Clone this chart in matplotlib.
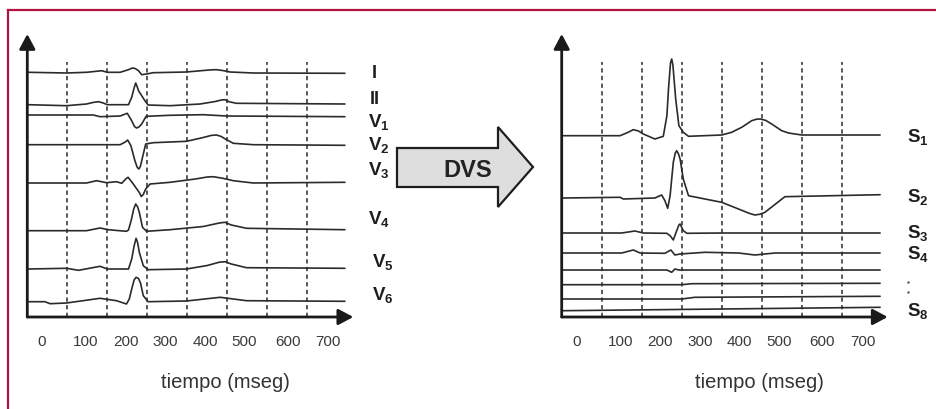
import matplotlib
matplotlib.use("Agg")
import matplotlib.pyplot as plt
from matplotlib.patches import Polygon
from matplotlib.lines import Line2D

plt.rcParams['font.family'] = ['Liberation Sans', 'DejaVu Sans']
plt.rcParams['mathtext.fontset'] = 'custom'
plt.rcParams['mathtext.rm'] = 'Liberation Sans'
plt.rcParams['mathtext.bf'] = 'Liberation Sans:bold'

# time of the dashed guide lines (ms)
grid_t = [100, 200, 300, 400, 500, 600, 700]
# tick labels as printed under the axis (they sit between the guide lines)
tick_pos = [37, 147, 246, 346, 444, 543, 651, 752]
tick_lbl = ['0', '100', '200', '300', '400', '500', '600', '700']

# ---- left panel: the 8 ECG leads, (t ms, level) points
lead_names = ['I', 'II', 'V1', 'V2', 'V3', 'V4', 'V5', 'V6']

lead_I = [(3, 244.7), (98, 244), (148, 244.7), (175, 245.8), (186, 246.3), (200, 244.7),
          (232, 244.7), (253, 247.3), (260, 248.6), (265, 249), (271, 248.2), (278, 246.3),
          (286, 242.3), (298, 243), (315, 244.3), (398, 245), (440, 246.5), (462, 247.2),
          (473, 247.3), (490, 246.4), (507, 245), (565, 244), (794, 243.7)]
lead_II = [(3, 212.3), (98, 211.3), (148, 213), (165, 214.6), (178, 215.3), (190, 214),
           (200, 212.3), (253, 212.3), (261, 219.7), (267, 229), (271, 234), (275, 230),
           (278, 226.3), (286, 221.3), (294, 216.3), (302, 212), (357, 211.3), (432, 213),
           (470, 215.5), (485, 217), (494, 217.3), (505, 215.2), (523, 213.7), (794, 213)]
lead_V1 = [(3, 202), (165, 202), (182, 200.3), (232, 201), (250, 203.7), (261, 196.3),
           (268, 190.5), (273, 189), (279, 190), (286, 193), (297, 200.7), (357, 201.7),
           (440, 202.3), (498, 201), (794, 200.3)]
lead_V2 = [(3, 172.3), (232, 172.3), (245, 175), (251, 177), (259, 171.3), (269, 156.3),
           (275, 149.5), (279, 148), (283, 151), (288, 159.7), (296, 173), (315, 174.3),
           (398, 175.7), (440, 179.5), (460, 181.6), (473, 182), (485, 180.5), (495, 178),
           (515, 173.7), (565, 172.3), (794, 171.7)]
lead_V3 = [(3, 134), (148, 134), (173, 136.3), (198, 134.3), (223, 135.3), (236, 133.7),
           (246, 138), (252, 139.7), (265, 133), (280, 124.5), (285, 120.5), (290, 122.5),
           (296, 128), (307, 133), (357, 134.7), (420, 138), (450, 140), (465, 140.3),
           (490, 138.6), (515, 136.3), (565, 134), (794, 134.7)]
lead_V4 = [(3, 86.3), (148, 86.3), (182, 89), (202, 87.3), (248, 85.7), (253, 87),
           (260, 97), (266, 108), (271, 113), (276, 110), (280, 104.7), (288, 89.7),
           (298, 85.7), (357, 87.3), (440, 90.5), (480, 94), (494, 94.7), (510, 92),
           (548, 88.7), (794, 87.3)]
lead_V5 = [(3, 48), (98, 48.7), (128, 46.7), (182, 50.7), (200, 48), (253, 48),
           (261, 58), (267, 71), (272, 78.7), (276, 74), (280, 64.7), (290, 51.3),
           (302, 47.3), (398, 48), (450, 51.5), (480, 54.8), (494, 55.3), (510, 53),
           (548, 49.3), (794, 48.7)]
lead_V6 = [(3, 15.3), (44, 15.3), (57, 13.3), (98, 14), (182, 18.7), (223, 16.3),
           (248, 13), (255, 18), (261, 28), (267, 37), (272, 39.7), (278, 38.5),
           (283, 34), (290, 21.3), (302, 15.3), (398, 16), (482, 19.7), (548, 16.3),
           (794, 15.7)]
leads = [lead_I, lead_II, lead_V1, lead_V2, lead_V3, lead_V4, lead_V5, lead_V6]

# ---- right panel: the singular value components S1..S8
comp_S1 = [(4, 181.3), (146, 181.3), (165, 184.5), (179, 187.3), (192, 186), (204, 183),
           (233, 178), (254, 180.7), (263, 201.3), (267, 228), (272, 254), (275, 258),
           (278, 252), (285, 218), (293, 191.3), (304, 184.7), (317, 180.7), (400, 182),
           (425, 184.7), (450, 189.7), (475, 196.3), (487, 197.8), (497, 198), (510, 196.6),
           (525, 193), (550, 186.3), (567, 184), (600, 182), (796, 182)]
comp_S2 = [(4, 119), (146, 119.7), (154, 118), (233, 119), (250, 122), (258, 116.3),
           (265, 108.7), (271, 121.3), (279, 154.7), (284, 164), (287.5, 166.3),
           (292, 163), (296, 158), (304, 138), (317, 121.3), (358, 118), (400, 114.7),
           (442, 108), (470, 103.5), (483, 102), (496, 102.8), (508, 104.7), (558, 120.3),
           (796, 122.3)]
comp_S3 = [(4, 84), (150, 84), (183, 86), (204, 84), (263, 83.7), (271, 81.3), (279, 77),
           (287.5, 86.3), (293, 92), (296, 93), (304, 86.3), (313, 83.7), (400, 84),
           (796, 84)]
comp_S4 = [(4, 64), (150, 64), (179, 67), (196, 64), (258, 63.7), (273, 67), (283, 62),
           (296, 63), (358, 64.7), (442, 64), (483, 62), (533, 64), (796, 64)]
comp_S5 = [(4, 47), (263, 47), (275, 44.7), (283, 48), (293, 47), (796, 47)]
comp_S6 = [(4, 32.3), (300, 32.3), (325, 33.3), (796, 33.7)]
comp_S7 = [(4, 18), (300, 18), (333, 19.7), (796, 20.7)]
comp_S8 = [(4, 6.3), (796, 9.7)]
comps = [comp_S1, comp_S2, comp_S3, comp_S4, comp_S5, comp_S6, comp_S7, comp_S8]

# label positions (t, level) at the right end of each panel
lead_lbl_xy = [(867, 245), (869, 219), (852, 195), (852, 172), (852, 147), (852, 98),
               (861, 55), (861, 22)]
comp_lbl = ['S_1', 'S_2', 'S_3', 'S_4', None, None, None, 'S_8']
comp_lbl_y = [180, 120, 84, 63, None, None, None, 6]

W, H = 936, 410
fig = plt.figure(figsize=(W / 100, H / 100), dpi=100)
fig.patch.set_facecolor('white')

ink = '#2b2b2b'
t_max, y_max = 815, 283


def panel(left_px, traces):
    ax = fig.add_axes([left_px / W, (H - 318) / H, 0.4 * t_max / W, y_max / H])
    ax.set_xlim(0, t_max)
    ax.set_ylim(0, y_max)
    for s in ax.spines.values():
        s.set_visible(False)
    ax.set_yticks([])
    ax.set_xticks(tick_pos, tick_lbl)
    ax.tick_params(axis='x', length=0, pad=12, labelsize=11, labelcolor='#3a3a3a')
    ax.vlines(grid_t, 0, 255, colors=ink, linestyles=(0, (2.8, 2.2)), lw=1.1)
    for tr in traces:
        ax.plot([p[0] for p in tr], [p[1] for p in tr], color=ink, lw=1.2,
                solid_joinstyle='round', solid_capstyle='round')
    arrow = dict(arrowstyle='-|>,head_length=0.45,head_width=0.24', lw=2.0,
                 color='#1a1a1a', shrinkA=0, shrinkB=0, mutation_scale=20)
    ax.annotate('', xy=(t_max, 0), xytext=(0, 0), arrowprops=arrow, annotation_clip=False)
    ax.annotate('', xy=(0, y_max), xytext=(0, 0), arrowprops=arrow, annotation_clip=False)
    ax.text(495, -65, 'tiempo (mseg)', ha='center', va='center', fontsize=14.5,
            color='#333333', clip_on=False)
    return ax


ax1 = panel(27.3, leads)
for name, (tx, ty) in zip(lead_names, lead_lbl_xy):
    if name.startswith('V'):
        s = r'$\mathbf{V}_\mathbf{%s}$' % name[1:]
        ax1.text(tx, ty, s, ha='left', va='center', fontsize=13.5, color='#1e1e1e',
                 clip_on=False)
    else:
        ax1.text(tx, ty, name, ha='center', va='center', fontsize=13, fontweight='bold',
                 color='#1e1e1e', clip_on=False)

ax2 = panel(561.7, comps)
for lbl, ly in zip(comp_lbl, comp_lbl_y):
    if lbl is None:
        continue
    ax2.text(863, ly, r'$\mathbf{S}_\mathbf{%s}$' % lbl[2:], ha='left', va='center',
             fontsize=13.5, color='#1e1e1e', clip_on=False)
ax2.plot([866, 866], [35, 25], ls='none', marker='.', ms=1.5, color='#555555', clip_on=False)

# the big "DVS" arrow between the panels (figure pixels, y from the top)
shape_px = [(397, 149), (498, 149), (498, 128), (533, 168), (498, 208), (498, 188), (397, 188)]
shape = [(x / W, 1 - y / H) for x, y in shape_px]
fig.add_artist(Polygon(shape, closed=True, transform=fig.transFigure,
                       facecolor='#dedede', edgecolor='#1e1e1e', lw=1.6, joinstyle='miter'))
fig.text(468 / W, 1 - 171 / H, 'DVS', ha='center', va='center', fontsize=17,
         fontweight='bold', color='#222222')

# crimson frame (top and left edges)
frame = '#b0133f'
fig.add_artist(Line2D([8.3 / W, 1], [1 - 10.5 / H, 1 - 10.5 / H], color=frame, lw=1.6,
                      transform=fig.transFigure))
fig.add_artist(Line2D([8.3 / W, 8.3 / W], [0, 1 - 10.5 / H], color=frame, lw=1.6,
                      transform=fig.transFigure))

fig.savefig('out.png', dpi=100, facecolor='white')
